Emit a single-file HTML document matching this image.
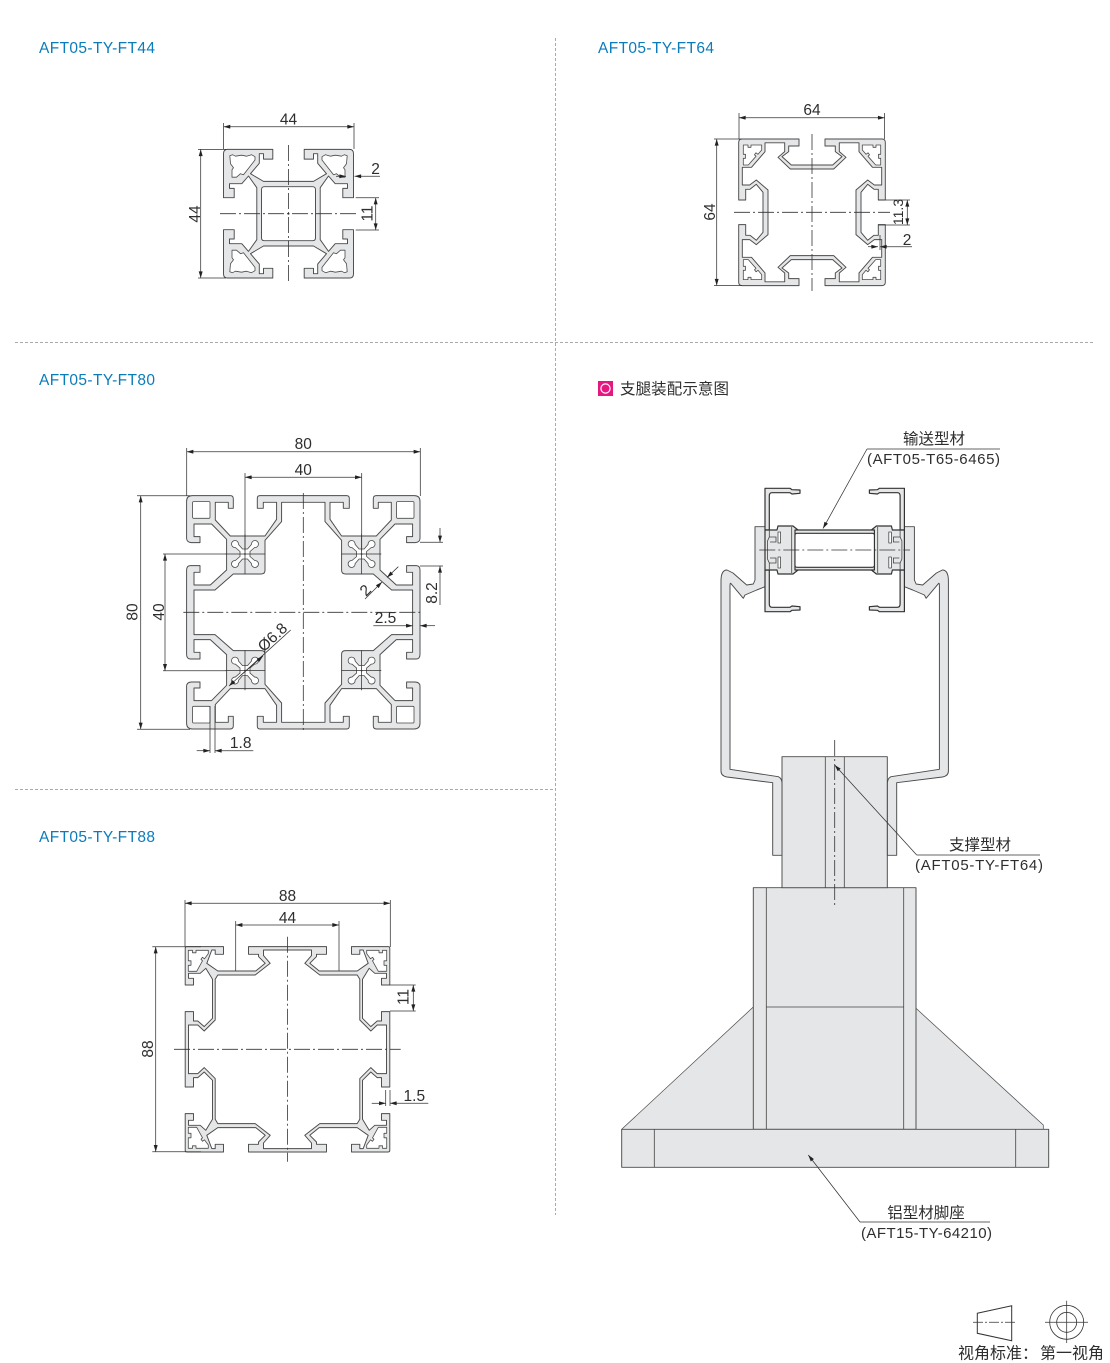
<!DOCTYPE html>
<html><head><meta charset="utf-8"><style>
html,body{margin:0;padding:0;background:#fff}
svg{display:block}
text{font-family:"Liberation Sans","Noto Sans CJK SC",sans-serif;fill:#2e2e2e;font-size:15.5px}
.t{fill:#0a7cba;font-size:15.5px}
.c{font-size:15.5px}
.m{text-anchor:middle}
.f{fill:#e5e6e7;stroke:#4a4a4a;stroke-width:.95;stroke-linejoin:round}
.k{fill:#e5e6e7;stroke:#333;stroke-width:1.2;stroke-linejoin:round}
.h{fill:#fff;stroke:#4a4a4a;stroke-width:.8;stroke-linejoin:round}
.l{fill:none;stroke:#444;stroke-width:.8}
.d{fill:none;stroke:#333;stroke-width:.75}
.e{fill:none;stroke:#e5e6e7;stroke-width:1.4}
.x{fill:none;stroke:#333;stroke-width:.8;stroke-dasharray:16 3 2 3}
.v{fill:none;stroke:#aaa;stroke-width:1;stroke-dasharray:3 2}
</style></head><body>
<svg width="1110" height="1363" viewBox="0 0 1110 1363" xmlns="http://www.w3.org/2000/svg">
<defs>
<marker id="a" viewBox="0 0 10 6" refX="10" refY="3" markerWidth="10" markerHeight="4" orient="auto-start-reverse" markerUnits="userSpaceOnUse"><path d="M0,0L10,3L0,6Z" fill="#222"/></marker>

<g id="q44">
<path class="f" d="M-15.7,-64.3H-61Q-65,-64.3 -65,-60V-16H-54.3V-25.3H-59V-30H-46.7L-40,-37.7L-31.7,-26V0H-27V-24Q-27,-27 -24,-27H0V-32.3H-25L-38,-40L-29.2,-50.4V-60H-25V-54.6H-15.7Z"/>
<path class="e" d="M-31.2,0H-27.5M0,-31.8V-27.5"/>
<path class="h" d="M-58.7,-58L-56,-59L-53,-57.5L-47,-58.5L-42,-57.5L-37,-59L-33.5,-57V-53.7L-45,-39L-48,-40L-52,-36.5H-56.5V-44L-55,-46L-58,-50Z"/>
</g>

<g id="q64">
<path class="f" d="M-13,-73.3H-70Q-73.3,-73.3 -73.3,-70V-12.3H-66.3V-23H-62L-55.7,-28L-49,-20V0H-44V-22.3L-55.7,-32.3L-62.3,-27.3H-69.7V-45H-60.5L-47,-60.6V-69.5H-27.3V-60.7L-34,-55L-21.7,-43.3H0V-47.3H-20.7L-30,-55.7L-23.3,-60.7V-66.3H-13Z"/>
<path class="e" d="M-48.5,0H-44.5M0,-46.8V-43.8"/>
<path class="h" d="M-68.7,-67.3H-64V-65H-61V-67.3H-50.3V-62.3L-54,-58L-56,-59.5L-57.5,-57.5L-56,-56L-63.7,-47.3H-68.7V-54H-66.5V-58H-68.7Z"/>
</g>

<g id="q80">
<path class="f" d="M0,-116.7H-43.3Q-46,-116.7 -46,-114V-104H-40V-110H-26.7V-93L-38.3,-76.3H-73L-88,-92.3V-110H-75V-104H-70V-113.5Q-70,-116.7 -73,-116.7H-111Q-116.7,-116.7 -116.7,-111V-74Q-116.7,-70 -112,-69.7H-103.3V-75.7H-109.3V-88.3H-91.7L-76.7,-73V-42.3L-93,-27.3H-109.3V-40H-103.3V-46.7H-113Q-116.7,-46.7 -116.7,-42V0H-109.3V-22.3H-88.3L-70,-38.3H-42Q-38.3,-38.3 -38.3,-42V-72L-21.7,-90.7V-110H0Z"/>
<path class="e" d="M-116.2,0H-109.8M0,-116.2V-110.5"/>
<rect class="h" x="-110.7" y="-110.7" width="17.4" height="16.7" rx="1"/>
<path class="h" transform="translate(-58.3,-58.3)" d="M-6.5,-9.65A3.5,3.5 0 1 0 -9.65,-6.5L-5,-2.5V2.5L-9.65,6.5A3.5,3.5 0 1 0 -6.5,9.65L-2.5,5H2.5L6.5,9.65A3.5,3.5 0 1 0 9.65,6.5L5,2.5V-2.5L9.65,-6.5A3.5,3.5 0 1 0 6.5,-9.65L2.5,-5H-2.5Z"/>
<path class="d" d="M-78,-58.3H-38M-58.3,-78V-38"/>
<circle cx="-58.3" cy="-58.3" r=".9" fill="#333"/>
</g>

<g id="q88">
<path class="f" d="M0,-102.7H-39V-95H-29V-92.7L-22.3,-86L-31.7,-78.3H-69.7L-80.7,-86L-75.7,-99.3H-72.3V-95H-64V-102.7H-100.7Q-102.3,-102.7 -102.3,-101V-64.3H-94V-71H-99V-76H-87.3L-81.7,-81L-75,-70V-31L-83.3,-22.7L-89.7,-28.3H-94V-37.7H-102.3V0H-99V-24.3H-89.7L-83.3,-18.3L-72.3,-29.3V-70L-69.7,-74.3H-32.3L-17.3,-86L-24,-93.7V-99.3H0Z"/>
<path class="e" d="M-101.8,0H-99.5M0,-102.2V-99.8"/>
<path class="h" d="M-99.2,-99H-95V-96.5H-91.5V-99H-79.2V-95.7L-83,-90.5L-85,-92L-86.5,-90L-85,-88.5L-90.8,-78H-99.2V-84H-96.5V-88.5H-99.2Z"/>
</g>

<g id="wallL">
<path class="f" d="M721,771V581Q721,570 727,570L733,573L746.7,585L753.3,584L755,580V526.7H765V586.7L756.7,590L745,595L743.3,598.3L730.7,583.3Q730,583 730,586V769.3L778.3,776.7Q781.7,778 782,783V855.3H772.7V782.7L727,777Q721,776 721,771Z"/>
</g>
<g id="capL">
<path class="k" d="M765,488.3H790L792,489.7L800,490V493.3L792,494L790,492.7H772Q769.3,492.7 769.3,496V530H765Z"/>
<path class="k" d="M765,611.7H790L792,610.3L800,610V606.7L792,606L790,607.3H772Q769.3,607.3 769.3,604V570H765Z"/>
<path class="k" d="M765,530H777L778,526H793L798,530V570L793,574H778L777,570H765Z"/>
<rect class="h" x="778" y="532" width="2.6" height="11"/>
<rect class="h" x="778" y="557" width="2.6" height="11"/>
<path class="l" d="M791.7,527V573M769.3,530V537L767.5,541V559L769.3,563V570M769.3,537H776V542H770M769.3,563H776V558H770"/>
</g>
</defs>

<!-- dividers -->
<path class="v" d="M555.5,38V1215M15,342.5H1095M15,789.5H555"/>

<!-- titles -->
<text class="t" x="39" y="53" textLength="116" lengthAdjust="spacing">AFT05-TY-FT44</text>
<text class="t" x="598" y="53" textLength="116" lengthAdjust="spacing">AFT05-TY-FT64</text>
<text class="t" x="39" y="385" textLength="116" lengthAdjust="spacing">AFT05-TY-FT80</text>
<text class="t" x="39" y="842" textLength="116" lengthAdjust="spacing">AFT05-TY-FT88</text>

<!-- FT44 -->
<g transform="translate(288.5,213.7)">
<use href="#q44"/><use href="#q44" transform="scale(-1,1)"/><use href="#q44" transform="scale(1,-1)"/><use href="#q44" transform="scale(-1,-1)"/>
<circle r="1" fill="#333"/>
</g>
<path class="x" d="M220,213.7H358M288.4,145V282"/>
<path class="d" d="M223.6,123V149M354,123V149M198,149.4H226M198,278H226M355.7,197.7H379M355.7,230H379"/>
<line class="d" x1="223.6" y1="126.7" x2="354" y2="126.7" marker-start="url(#a)" marker-end="url(#a)"/>
<line class="d" x1="200.7" y1="149.4" x2="200.7" y2="278" marker-start="url(#a)" marker-end="url(#a)"/>
<line class="d" x1="375.7" y1="197.7" x2="375.7" y2="230" marker-start="url(#a)" marker-end="url(#a)"/>
<line class="d" x1="336" y1="176.3" x2="346" y2="176.3" marker-end="url(#a)"/>
<line class="d" x1="380" y1="176.3" x2="354.5" y2="176.3" marker-end="url(#a)"/>
<text class="m" x="288.5" y="124.5">44</text>
<text class="m" transform="translate(200,214) rotate(-90)">44</text>
<text class="m" transform="translate(372.5,213.5) rotate(-90)">11</text>
<text class="m" x="375.5" y="174">2</text>

<!-- FT64 -->
<g transform="translate(812,212.3)">
<use href="#q64"/><use href="#q64" transform="scale(-1,1)"/><use href="#q64" transform="scale(1,-1)"/><use href="#q64" transform="scale(-1,-1)"/>
</g>
<path class="x" d="M734,212.3H890M812,134V291"/>
<path class="d" d="M739,113V139M884.6,113V139M714,139H742M714,285.5H742M878,200H910M878,225H910M880,235V250"/>
<line class="d" x1="739" y1="117.7" x2="884.6" y2="117.7" marker-start="url(#a)" marker-end="url(#a)"/>
<line class="d" x1="716.7" y1="139" x2="716.7" y2="285.5" marker-start="url(#a)" marker-end="url(#a)"/>
<line class="d" x1="907.3" y1="200" x2="907.3" y2="225" marker-start="url(#a)" marker-end="url(#a)"/>
<line class="d" x1="868" y1="246.7" x2="878" y2="246.7" marker-end="url(#a)"/>
<line class="d" x1="912" y1="246.7" x2="880" y2="246.7" marker-end="url(#a)"/>
<text class="m" x="812" y="115">64</text>
<text class="m" transform="translate(715,212) rotate(-90)">64</text>
<text class="m" style="font-size:14px" transform="translate(903,212) rotate(-90)">11.3</text>
<text class="m" x="907" y="245">2</text>

<!-- FT80 -->
<g transform="translate(303.3,612.3)">
<use href="#q80"/><use href="#q80" transform="scale(-1,1)"/><use href="#q80" transform="scale(1,-1)"/><use href="#q80" transform="scale(-1,-1)"/>
</g>
<path class="x" d="M183.3,612.3H423.3M303.3,493V732"/>
<path class="d" d="M186.7,448V496M420.3,448V496M245,473V551M361.7,473V551M137,495.7H190M137,729.3H190M163,554H226M163,670.7H226M420,542.3H443M420,566H443M210,706V753M215,706V753"/>
<line class="d" x1="186.7" y1="451.7" x2="420.3" y2="451.7" marker-start="url(#a)" marker-end="url(#a)"/>
<line class="d" x1="245" y1="477.3" x2="361.7" y2="477.3" marker-start="url(#a)" marker-end="url(#a)"/>
<line class="d" x1="140.7" y1="495.7" x2="140.7" y2="729.3" marker-start="url(#a)" marker-end="url(#a)"/>
<line class="d" x1="165" y1="554" x2="165" y2="670.7" marker-start="url(#a)" marker-end="url(#a)"/>
<line class="d" x1="440" y1="528" x2="440" y2="542.3" marker-end="url(#a)"/>
<line class="d" x1="440" y1="605" x2="440" y2="566" marker-end="url(#a)"/>
<line class="d" x1="365" y1="599" x2="382" y2="582" marker-end="url(#a)"/>
<line class="d" x1="398.3" y1="566.7" x2="387" y2="577.5" marker-end="url(#a)"/>
<line class="d" x1="373.3" y1="625.7" x2="412.7" y2="625.7" marker-end="url(#a)"/>
<line class="d" x1="435" y1="625.7" x2="420" y2="625.7" marker-end="url(#a)"/>
<line class="d" x1="290.7" y1="630" x2="229" y2="686" marker-end="url(#a)"/>
<line class="d" x1="240" y1="676" x2="263" y2="656" marker-end="url(#a)"/>
<line class="d" x1="196.7" y1="750.7" x2="210" y2="750.7" marker-end="url(#a)"/>
<line class="d" x1="253.3" y1="750.7" x2="215" y2="750.7" marker-end="url(#a)"/>
<text class="m" x="303.3" y="449">80</text>
<text class="m" x="303.3" y="475">40</text>
<text class="m" transform="translate(137.5,612) rotate(-90)">80</text>
<text class="m" transform="translate(164,612) rotate(-90)">40</text>
<text class="m" transform="translate(437,593) rotate(-90)">8.2</text>
<text class="m" transform="translate(369,594) rotate(-45)">2</text>
<text class="m" x="385.5" y="623">2.5</text>
<text class="m" transform="translate(276,641) rotate(-43)">Ø6.8</text>
<text class="m" x="240.7" y="748">1.8</text>

<!-- FT88 -->
<g transform="translate(287.5,1049.3)">
<use href="#q88"/><use href="#q88" transform="scale(-1,1)"/><use href="#q88" transform="scale(1,-1)"/><use href="#q88" transform="scale(-1,-1)"/>
</g>
<path class="x" d="M174,1049.3H400.7M287.4,936.7V1161.7"/>
<path class="d" d="M185,900V947M390.3,900V947M235.7,921V971M339,921V971M152.3,946.7H201M152.3,1151.7H201M390,985H415.7M390,1011H415.7M385.7,1090V1106M390,1090V1106"/>
<line class="d" x1="185" y1="903.3" x2="390.3" y2="903.3" marker-start="url(#a)" marker-end="url(#a)"/>
<line class="d" x1="235.7" y1="925" x2="339" y2="925" marker-start="url(#a)" marker-end="url(#a)"/>
<line class="d" x1="155.7" y1="946.7" x2="155.7" y2="1151.7" marker-start="url(#a)" marker-end="url(#a)"/>
<line class="d" x1="413.3" y1="985" x2="413.3" y2="1011" marker-start="url(#a)" marker-end="url(#a)"/>
<line class="d" x1="371.7" y1="1103.3" x2="385.7" y2="1103.3" marker-end="url(#a)"/>
<line class="d" x1="428.3" y1="1103.3" x2="390" y2="1103.3" marker-end="url(#a)"/>
<text class="m" x="287.5" y="901">88</text>
<text class="m" x="287.5" y="923">44</text>
<text class="m" transform="translate(153,1049) rotate(-90)">88</text>
<text class="m" transform="translate(408.5,997) rotate(-90)">11</text>
<text class="m" x="414.3" y="1101">1.5</text>

<!-- assembly heading -->
<rect x="598" y="381" width="15" height="15" fill="#e6177f"/>
<circle cx="605.5" cy="388.5" r="4.6" fill="none" stroke="#fff" stroke-width="1.2"/>
<text class="c" x="620" y="394" textLength="109" lengthAdjust="spacing">支腿装配示意图</text>

<!-- assembly -->
<path class="f" style="stroke-width:.7" d="M753.3,1007L621.7,1129.3H1043.3V1125L916,1008.3V1007Z"/>
<rect class="f" x="753.3" y="887.7" width="162.7" height="241.6"/>
<path class="l" d="M766.3,887.7V1129.3M903.7,887.7V1129.3M766.3,1007H903.7"/>
<rect class="f" x="621.7" y="1129.3" width="427" height="38"/>
<path class="l" d="M654.3,1129.3V1167.3M1015.7,1129.3V1167.3"/>
<rect class="f" x="782" y="756.7" width="105.3" height="131"/>
<path class="l" d="M825.3,756.7V887.7M844.3,756.7V887.7"/>

<use href="#wallL"/><use href="#wallL" transform="translate(1669.4,0) scale(-1,1)"/>
<use href="#capL"/><use href="#capL" transform="translate(1669.4,0) scale(-1,1)"/>
<rect class="k" x="795" y="530" width="79.4" height="40"/>
<rect x="795" y="533.3" width="79.4" height="34" rx="2" fill="#fff" stroke="#333" stroke-width="1.1"/>
<path class="x" d="M759.3,550H910M834.7,740V905"/>

<!-- leaders -->
<path class="d" d="M867,449H1000M916.7,855H1040M860,1222H990"/>
<line class="d" x1="867" y1="449" x2="823" y2="528.5" marker-end="url(#a)"/>
<line class="d" x1="916.7" y1="855" x2="834.7" y2="765" marker-end="url(#a)"/>
<line class="d" x1="860" y1="1222" x2="808.3" y2="1155" marker-end="url(#a)"/>
<text class="c m" x="934" y="444">输送型材</text>
<text x="867" y="464" style="font-size:15px" textLength="133" lengthAdjust="spacing">(AFT05-T65-6465)</text>
<text class="c m" x="980" y="850">支撑型材</text>
<text x="915" y="870" style="font-size:15px" textLength="128" lengthAdjust="spacing">(AFT05-TY-FT64)</text>
<text class="c m" x="926" y="1218">铝型材脚座</text>
<text x="861" y="1238" style="font-size:15px" textLength="131" lengthAdjust="spacing">(AFT15-TY-64210)</text>

<!-- view legend -->
<path d="M977.3,1313.3L1011.7,1305.7V1340.7L977.3,1333.3Z" fill="none" stroke="#333" stroke-width="1"/>
<path class="d" stroke-dasharray="10 2 2 2" d="M973,1322.3H1016.7"/>
<circle cx="1066.7" cy="1322.3" r="17" fill="none" stroke="#333" stroke-width=".8"/>
<circle cx="1066.7" cy="1322.3" r="10" fill="none" stroke="#333" stroke-width=".8"/>
<path class="d" d="M1045,1322.3H1088M1066.7,1300.7V1343"/>
<text style="font-size:16px" x="958" y="1358.5">视角标准：</text>
<text style="font-size:16px" x="1040" y="1358.5">第一视角</text>
</svg>
</body></html>
